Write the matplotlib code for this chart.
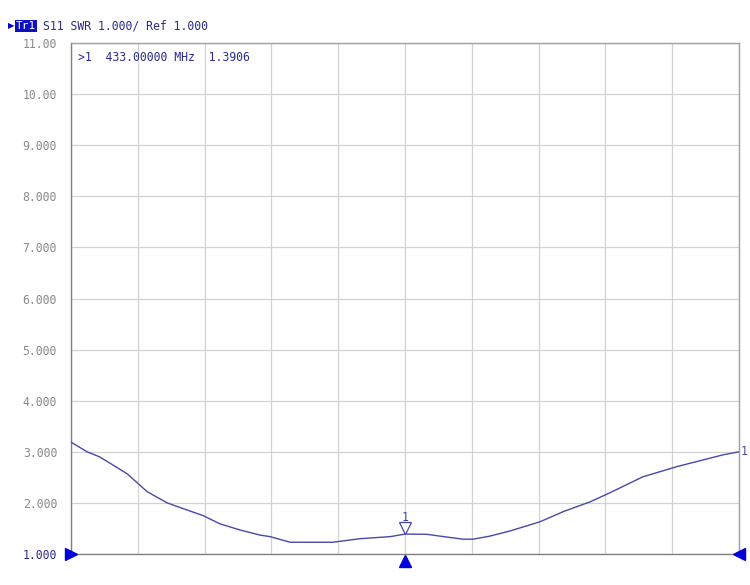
import matplotlib.pyplot as plt

# ============================
# Data (SWR trace)
# ============================
freq_mhz = [383.0, 385.4, 387.3, 389.3, 391.4, 394.4, 397.4, 400.4, 402.8, 405.3,
            408.3, 411.3, 412.8, 415.8, 422.2, 426.3, 430.8, 433.0, 436.3, 438.2,
            441.7, 443.2, 445.7, 448.7, 453.2, 456.7, 460.7, 463.7, 468.6, 473.7,
            476.7, 480.6, 483.0]
swr = [3.19, 3.00, 2.90, 2.74, 2.57, 2.22, 2.00, 1.86, 1.75, 1.59,
       1.47, 1.37, 1.34, 1.23, 1.23, 1.30, 1.34, 1.39, 1.385, 1.35,
       1.29, 1.29, 1.35, 1.45, 1.63, 1.83, 2.02, 2.20, 2.51, 2.71,
       2.81, 2.94, 3.00]
y_ticks = [1, 2, 3, 4, 5, 6, 7, 8, 9, 10, 11]
y_labels = ["1.000", "2.000", "3.000", "4.000", "5.000", "6.000",
            "7.000", "8.000", "9.000", "10.00", "11.00"]
marker_freq = 433.0
marker_val = 1.3906

TRACE = "#4848a8"
TXT = "#2c2c8c"
GRAY = "#8a8a8a"

plt.rcParams["font.family"] = ["DejaVu Sans Mono"]

fig = plt.figure(figsize=(7.5, 5.85), dpi=100)
ax = fig.add_axes([71 / 750, 31 / 585, 668 / 750, 511 / 585])

ax.plot(freq_mhz, swr, color=TRACE, lw=1.0, zorder=3)
ax.set_xlim(383, 483)
ax.set_ylim(1, 11)

ax.set_xticks([383 + 10 * i for i in range(11)])
ax.set_xticklabels([])
ax.set_yticks(y_ticks)
ax.set_yticklabels(y_labels)
ax.tick_params(length=0, labelsize=8.3, labelcolor=GRAY, pad=10)
ax.get_yticklabels()[0].set_color(TXT)
ax.grid(True, color="#d2d2d2", lw=0.9)
for s in ax.spines.values():
    s.set_color("#a0a0a0")
    s.set_linewidth(1.0)
ax.spines["left"].set_color("#808080")
ax.spines["bottom"].set_color("#808080")

# marker
ax.plot([marker_freq], [marker_val + 0.12], marker="v", ms=8, mfc="white",
        mec=TRACE, mew=0.9, ls="none", zorder=4)
ax.text(marker_freq, marker_val + 0.2, "1", color=TRACE, fontsize=8.3,
        ha="center", va="bottom")
ax.text(0.01, 0.985, ">1  433.00000 MHz  1.3906", transform=ax.transAxes,
        color=TXT, fontsize=8.3, va="top", ha="left")
ax.text(1.002, (swr[-1] - 1) / 10, "1", transform=ax.transAxes, color=TRACE,
        fontsize=8.3, va="center", ha="left")

# edge triangles
ax.plot([0.0], [0.0], marker=">", ms=8, color="#0000dd", transform=ax.transAxes,
        clip_on=False, zorder=5)
ax.plot([1.0], [0.0], marker="<", ms=8, color="#0000dd", transform=ax.transAxes,
        clip_on=False, zorder=5)
ax.plot([0.5], [-0.014], marker="^", ms=9, color="#0000dd", transform=ax.transAxes,
        clip_on=False, zorder=5)

# header
fig.text(8 / 750, 1 - 26 / 585, "\u25b6", color="#0000cc", fontsize=6,
         va="center", ha="left", family=["DejaVu Sans"])
fig.text(16 / 750, 1 - 26 / 585, "Tr1", color="white", fontsize=8, va="center",
         ha="left", bbox=dict(boxstyle="square,pad=0.1", fc="#1010c0", ec="none"))
fig.text(43 / 750, 1 - 26 / 585, "S11 SWR 1.000/ Ref 1.000", color=TXT,
         fontsize=8.3, va="center", ha="left")

fig.savefig("out.png", dpi=100, facecolor="white")
